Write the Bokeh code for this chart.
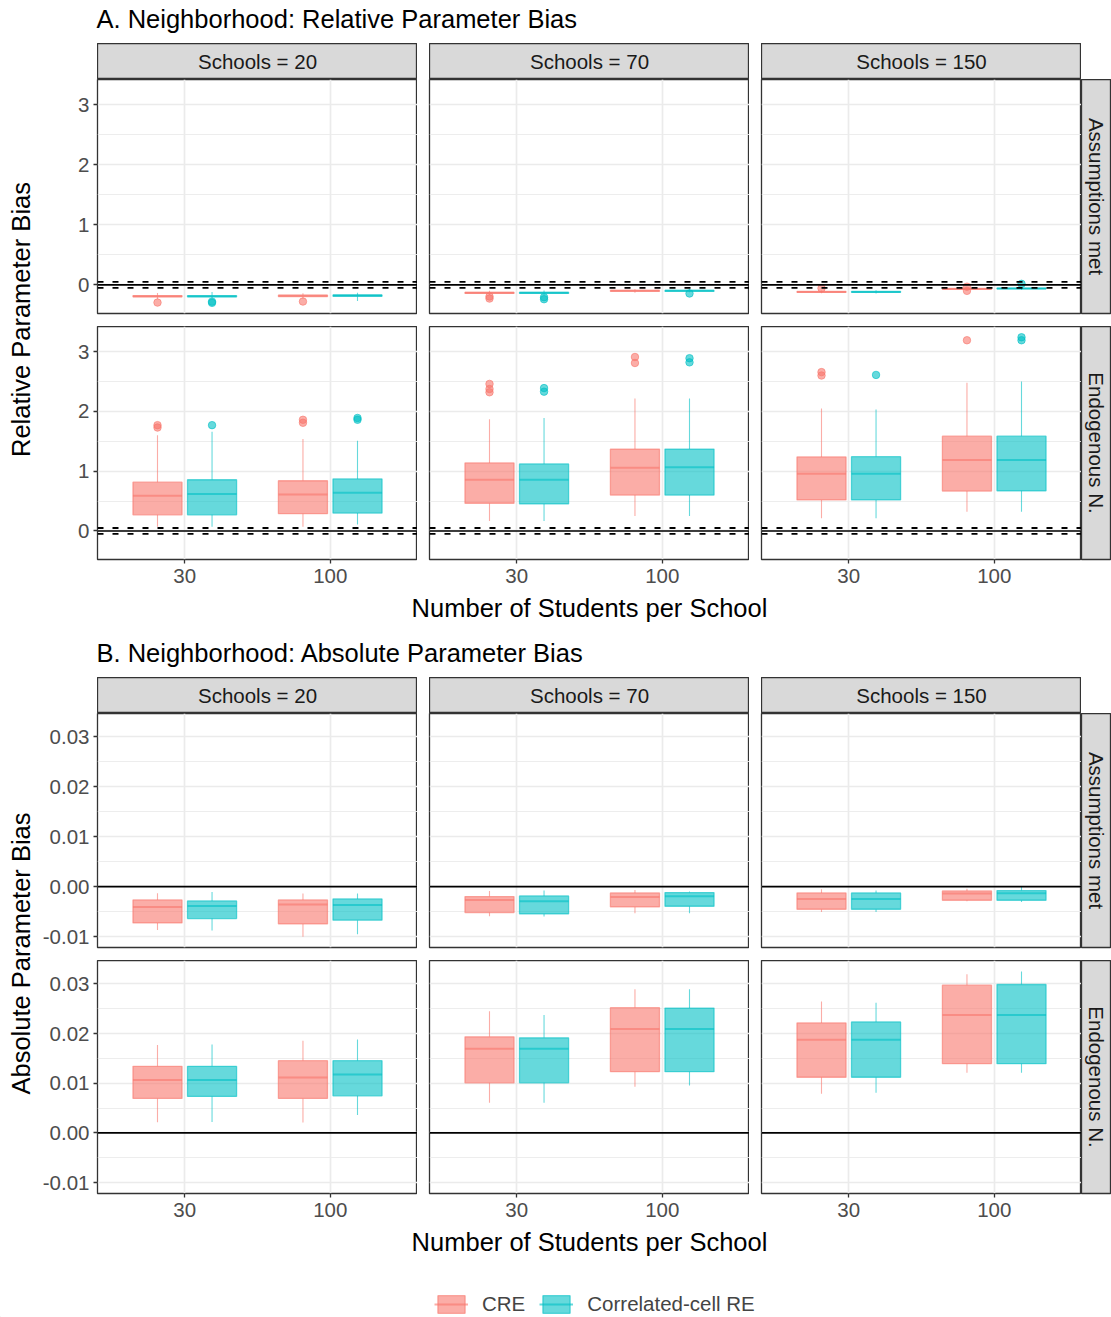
import math
from bokeh.plotting import figure
from bokeh.models import (ColumnDataSource, FactorRange, Range1d, FixedTicker, Span, Label,
                          Legend, LegendItem, NumeralTickFormatter, BasicTickFormatter, Spacer)
from bokeh.transform import dodge
from bokeh.layouts import row, column
from bokeh.embed import file_html
from bokeh.resources import INLINE

FONT = "Liberation Sans"

students = ["30", "100"]
schools = ["Schools = 20", "Schools = 70", "Schools = 150"]
conditions = ["Assumptions met", "Endogenous N."]
methods = ["CRE", "Correlated-cell RE"]
method_colors = ["#F8766D", "#00BFC4"]
x_title = "Number of Students per School"

# box order: (20,30),(20,100),(70,30),(70,100),(150,30),(150,100)
# each box: (lower whisker, q1, median, q3, upper whisker)
rel_met_cre = [(-0.235, -0.200, -0.190, -0.180, -0.135), (-0.230, -0.195, -0.183, -0.172, -0.139),
               (-0.170, -0.142, -0.133, -0.124, -0.100), (-0.130, -0.108, -0.100, -0.092, -0.075),
               (-0.140, -0.124, -0.117, -0.110, -0.095), (-0.085, -0.073, -0.067, -0.061, -0.050)]
rel_met_ccre = [(-0.230, -0.200, -0.190, -0.180, -0.117), (-0.270, -0.190, -0.178, -0.168, -0.133),
                (-0.170, -0.142, -0.133, -0.124, -0.095), (-0.125, -0.108, -0.100, -0.092, -0.075),
                (-0.145, -0.124, -0.117, -0.110, -0.090), (-0.085, -0.067, -0.060, -0.054, -0.035)]
rel_endo_cre = [(0.07, 0.27, 0.59, 0.817, 1.60), (0.07, 0.29, 0.61, 0.84, 1.54),
                (0.166, 0.464, 0.857, 1.138, 1.868), (0.249, 0.60, 1.056, 1.37, 2.216),
                (0.215, 0.519, 0.956, 1.238, 2.05), (0.32, 0.668, 1.188, 1.586, 2.48)]
rel_endo_ccre = [(0.07, 0.27, 0.62, 0.857, 1.66), (0.11, 0.30, 0.64, 0.87, 1.51),
                 (0.166, 0.453, 0.857, 1.122, 1.89), (0.25, 0.60, 1.066, 1.37, 2.216),
                 (0.215, 0.519, 0.956, 1.243, 2.03), (0.32, 0.673, 1.188, 1.586, 2.50)]
rel_met_cre_out = [[-0.295], [-0.278], [-0.194, -0.228], [], [-0.056], [-0.03, -0.10]]
rel_met_ccre_out = [[-0.28, -0.30], [], [-0.206, -0.239], [-0.144], [], [0.017]]
rel_endo_cre_out = [[1.73, 1.77], [1.81, 1.86], [2.32, 2.375, 2.46], [2.81, 2.91], [2.60, 2.657], [3.19]]
rel_endo_ccre_out = [[1.77], [1.86, 1.89], [2.33, 2.39], [2.82, 2.89], [2.61], [3.19, 3.24]]

abs_met_cre = [(-0.00867, -0.00727, -0.00407, -0.00267, -0.00133), (-0.01007, -0.00747, -0.00360, -0.00267, -0.00140),
               (-0.00593, -0.00520, -0.00267, -0.00200, -0.00087), (-0.00533, -0.00407, -0.00207, -0.00127, -0.00067),
               (-0.00507, -0.00453, -0.00247, -0.00127, -0.00053), (-0.00293, -0.00273, -0.00140, -0.00087, -0.00040)]
abs_met_ccre = [(-0.00880, -0.00640, -0.00387, -0.00287, -0.00107), (-0.00953, -0.00673, -0.00367, -0.00247, -0.00140),
                (-0.00600, -0.00547, -0.00293, -0.00187, -0.00080), (-0.00533, -0.00393, -0.00193, -0.00120, -0.00100),
                (-0.00507, -0.00453, -0.00247, -0.00127, -0.00080), (-0.00307, -0.00273, -0.00133, -0.00080, 0.00007)]
abs_endo_cre = [(0.00213, 0.00693, 0.01067, 0.01340, 0.01767), (0.00207, 0.00693, 0.01113, 0.01453, 0.01853),
                (0.00607, 0.01007, 0.01693, 0.01933, 0.02447), (0.00927, 0.01233, 0.02093, 0.02520, 0.02893),
                (0.00787, 0.01120, 0.01873, 0.02213, 0.02647), (0.01213, 0.01393, 0.02373, 0.02973, 0.03193)]
abs_endo_ccre = [(0.00220, 0.00733, 0.01067, 0.01340, 0.01780), (0.00360, 0.00747, 0.01173, 0.01453, 0.01880),
                 (0.00607, 0.01007, 0.01693, 0.01913, 0.02373), (0.00953, 0.01233, 0.02093, 0.02513, 0.02893),
                 (0.00807, 0.01120, 0.01873, 0.02233, 0.02620), (0.01213, 0.01393, 0.02373, 0.02987, 0.03247)]
no_out = [[], [], [], [], [], []]

rel_ticks = [0, 1, 2, 3]
rel_minor = [-0.5, 0.5, 1.5, 2.5]
rel_range = (-0.477, 3.42)
rel_ref_solid = [0]
rel_ref_dashed = [-0.05, 0.05]

abs_ticks = [-0.01, 0.0, 0.01, 0.02, 0.03]
abs_minor = [-0.005, 0.005, 0.015, 0.025]
abs_range = (-0.0122, 0.0347)
abs_ref_solid = [0]
abs_ref_dashed = []

OFFSETS = [-0.1875, 0.1875]
BOXW = 0.3375
W = 1111
BOTTOM_AXIS = 34


def style_axis(ax):
    ax.axis_line_color = None
    ax.major_tick_in = 0
    ax.major_tick_out = 4
    ax.minor_tick_in = 0
    ax.minor_tick_out = 0
    ax.major_tick_line_color = "#333333"
    ax.major_tick_line_width = 1.3
    ax.major_label_text_font = FONT
    ax.major_label_text_font_size = "20.5px"
    ax.major_label_text_color = "#4D4D4D"


def make_panel(stats, outs, c, r, yr, ticks, minor, fmt, ref_solid, ref_dashed):
    first = c == 0
    bottom_row = r == 1
    fw = 320
    fh = 234 if r == 0 else 233
    bl = 62 if first else 12
    bb = 13 if r == 0 else BOTTOM_AXIS
    p = figure(width=bl + fw, height=fh + bb,
               x_range=FactorRange(factors=students, range_padding=0.1, range_padding_units="absolute"),
               y_range=Range1d(*yr), output_backend="svg", toolbar_location=None,
               x_axis_location="below" if bottom_row else None,
               y_axis_location="left" if first else None,
               min_border_left=bl, min_border_right=0, min_border_top=0, min_border_bottom=bb)
    tk = FixedTicker(ticks=ticks, minor_ticks=minor)
    p.ygrid.ticker = tk
    p.grid.grid_line_color = "#EBEBEB"
    p.grid.grid_line_width = 1.7
    p.ygrid.minor_grid_line_color = "#EBEBEB"
    p.ygrid.minor_grid_line_width = 0.9
    p.outline_line_color = "#333333"
    p.outline_line_width = 1.3
    p.outline_line_alpha = 1.0
    p.background_fill_color = "white"
    p.border_fill_color = "white"
    if first:
        p.yaxis.ticker = tk
        p.yaxis.formatter = fmt
        style_axis(p.yaxis[0])
        p.yaxis.major_label_standoff = 4
    if bottom_row:
        style_axis(p.xaxis[0])
        p.xaxis.major_label_standoff = 5

    for m in range(2):
        col = method_colors[m]
        off = OFFSETS[m]
        st = stats[m][2 * c:2 * c + 2]
        src = ColumnDataSource(dict(x=students,
                                    lo=[s[0] for s in st], q1=[s[1] for s in st],
                                    med=[s[2] for s in st], q3=[s[3] for s in st],
                                    hi=[s[4] for s in st]))
        xd = dodge('x', off, range=p.x_range)
        p.segment(x0=xd, x1=xd, y0='q3', y1='hi', source=src, line_color=col, line_alpha=0.6, line_width=1.1)
        p.segment(x0=xd, x1=xd, y0='q1', y1='lo', source=src, line_color=col, line_alpha=0.6, line_width=1.1)
        p.vbar(x=xd, width=BOXW, bottom='q1', top='q3', source=src, fill_color=col, fill_alpha=0.6,
               line_color=col, line_alpha=0.6, line_width=1.3)
        p.segment(x0=dodge('x', off - BOXW / 2, range=p.x_range), x1=dodge('x', off + BOXW / 2, range=p.x_range),
                  y0='med', y1='med', source=src, line_color=col, line_alpha=0.6, line_width=2)
        ox, oy = [], []
        for k, lst in enumerate(outs[m][2 * c:2 * c + 2]):
            for v in lst:
                ox.append(students[k])
                oy.append(v)
        if ox:
            osrc = ColumnDataSource(dict(ox=ox, oy=oy))
            p.scatter(x=dodge('ox', off, range=p.x_range), y='oy', source=osrc, size=7.5,
                      fill_color=col, line_color=col, fill_alpha=0.6, line_alpha=0.6)
    for v in ref_solid:
        p.add_layout(Span(location=v, dimension="width", line_color="black", line_width=1.6))
    for v in ref_dashed:
        p.add_layout(Span(location=v, dimension="width", line_color="black", line_width=1.8, line_dash="6 9"))
    return p


def blank_fig(w, h, **kw):
    f = figure(width=w, height=h, x_range=Range1d(0, w), y_range=Range1d(0, h), output_backend="svg",
               toolbar_location=None, x_axis_location=None, y_axis_location=None,
               min_border_left=0, min_border_right=0, min_border_top=0, min_border_bottom=0, **kw)
    f.grid.visible = False
    f.outline_line_color = None
    return f


def text_fig(w, h, txt, x, y, size, align="center", angle=0.0, color="black", baseline="middle"):
    f = blank_fig(w, h)
    f.add_layout(Label(x=x, y=y, text=txt, text_font=FONT, text_font_size=size, text_align=align,
                       text_baseline=baseline, angle=angle, text_color=color))
    return f


def strip_top(txt):
    f = figure(width=320, height=36, x_range=Range1d(0, 1), y_range=Range1d(0, 1), output_backend="svg",
               toolbar_location=None, x_axis_location=None, y_axis_location=None,
               min_border_left=0, min_border_right=0, min_border_top=0, min_border_bottom=0)
    f.grid.visible = False
    f.background_fill_color = "#D9D9D9"
    f.outline_line_color = "#333333"
    f.outline_line_width = 1.3
    f.add_layout(Label(x=0.5, y=0.5, text=txt, text_font=FONT, text_font_size="20.5px", text_align="center",
                       text_baseline="middle", text_color="#1A1A1A"))
    return f


def strip_right(txt, fh, bb):
    f = figure(width=30, height=fh + bb, x_range=Range1d(0, 1), y_range=Range1d(0, 1), output_backend="svg",
               toolbar_location=None, x_axis_location=None, y_axis_location=None,
               min_border_left=0, min_border_right=0, min_border_top=0, min_border_bottom=bb)
    f.grid.visible = False
    f.background_fill_color = "#D9D9D9"
    f.border_fill_color = "white"
    f.outline_line_color = "#333333"
    f.outline_line_width = 1.3
    f.add_layout(Label(x=0.5, y=0.5, text=txt, text_font=FONT, text_font_size="20.5px", text_align="center",
                       text_baseline="middle", angle=-math.pi / 2, text_color="#1A1A1A"))
    return f


def section(title, ylab, stats_rows, outs_rows, yr, ticks, minor, fmt, ref_solid, ref_dashed, header_h):
    header = text_fig(W, header_h, title, 96, 25, "25.5px", align="left")
    strips = row([Spacer(width=97, height=36), strip_top(schools[0]), Spacer(width=12, height=36),
                  strip_top(schools[1]), Spacer(width=12, height=36), strip_top(schools[2]),
                  Spacer(width=30, height=36)], spacing=0)
    prow = []
    for r in range(2):
        panels = [make_panel(stats_rows[r], outs_rows[r], c, r, yr, ticks, minor, fmt, ref_solid, ref_dashed)
                  for c in range(3)]
        fh = 234 if r == 0 else 233
        bb = 13 if r == 0 else BOTTOM_AXIS
        panels.append(strip_right(conditions[r], fh, bb))
        prow.append(row(panels, spacing=0))
    body_h = 247 + 233 + BOTTOM_AXIS
    ylab_f = text_fig(35, body_h, ylab, 20, body_h - 240, "25.5px", angle=math.pi / 2)
    body = row([ylab_f, column(prow, spacing=0)], spacing=0)
    xt_h = 36
    xt = text_fig(W, xt_h, x_title, 589, xt_h, "25.5px", baseline="top")
    return [header, strips, body, xt]


secA = section("A. Neighborhood: Relative Parameter Bias", "Relative Parameter Bias",
               [[rel_met_cre, rel_met_ccre], [rel_endo_cre, rel_endo_ccre]],
               [[rel_met_cre_out, rel_met_ccre_out], [rel_endo_cre_out, rel_endo_ccre_out]],
               rel_range, rel_ticks, rel_minor, BasicTickFormatter(), rel_ref_solid, rel_ref_dashed, 43)
secB = section("B. Neighborhood: Absolute Parameter Bias", "Absolute Parameter Bias",
               [[abs_met_cre, abs_met_ccre], [abs_endo_cre, abs_endo_ccre]],
               [[no_out, no_out], [no_out, no_out]],
               abs_range, abs_ticks, abs_minor, NumeralTickFormatter(format="0.00"), abs_ref_solid, abs_ref_dashed, 48)

# legend: key glyphs only (their data sit outside the visible frame)
leg = blank_fig(W, 54)
items = []
for m, col in enumerate(method_colors):
    src = ColumnDataSource(dict(x=[-100], top=[-100], bottom=[-101]))
    rb = leg.vbar(x='x', top='top', bottom='bottom', width=1, source=src, fill_color=col, fill_alpha=0.6,
                  line_color=col, line_alpha=0.6, line_width=1.3)
    rm = leg.segment(x0='x', x1='x', y0='top', y1='top', source=src, line_color=col, line_alpha=0.6, line_width=2)
    items.append(LegendItem(label=methods[m], renderers=[rb, rm]))
legend = Legend(items=items, orientation="horizontal", location=(434, 1), border_line_color=None,
                background_fill_alpha=0, label_text_font=FONT, label_text_font_size="20.5px",
                glyph_width=34, glyph_height=22, label_standoff=14, spacing=14, padding=0, margin=0)
leg.add_layout(legend, "center")

layout = column(secA + secB + [leg], spacing=0)
open("out.html", "w").write(file_html(layout, INLINE))
